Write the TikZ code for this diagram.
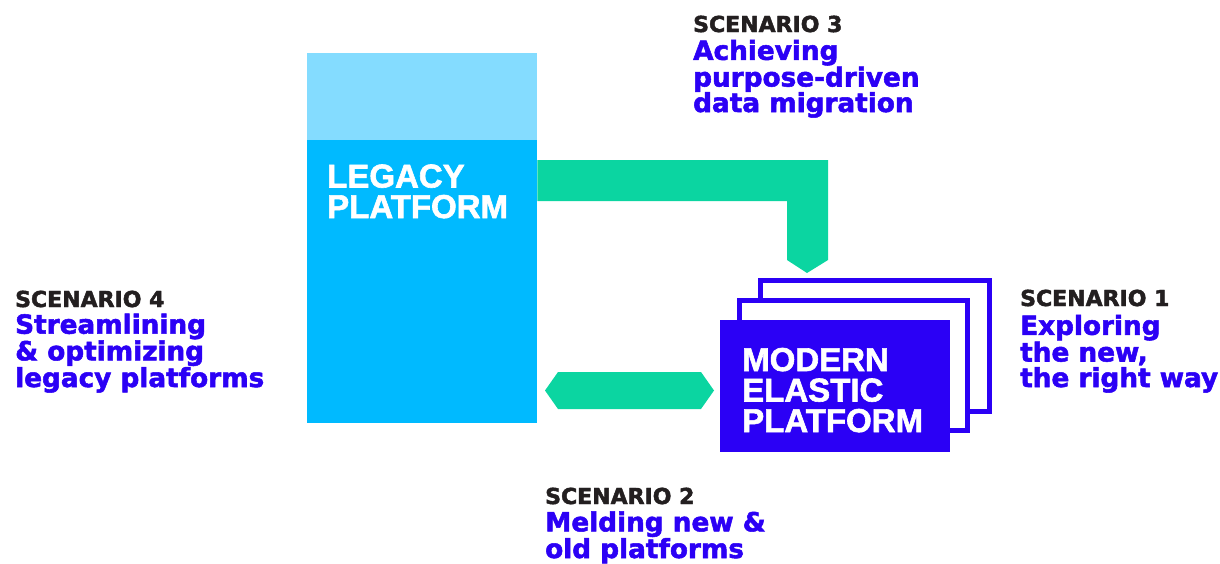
\documentclass[tikz,border=0pt]{standalone}
\usepackage{fontspec}
\setmainfont{DejaVu Sans}[BoldFeatures={FakeBold=2}]
\newfontfamily\labelfont{Liberation Sans}[BoldFeatures={FakeBold=1.8}]
\definecolor{lightsky}{HTML}{84DCFF}
\definecolor{sky}{HTML}{00BAFF}
\definecolor{mint}{HTML}{0BD5A1}
\definecolor{violet}{HTML}{2B00F5}
\definecolor{ink}{HTML}{231F20}
\tikzset{
  scen/.style={inner sep=0pt, anchor=base west, text=ink, font=\bfseries\fontsize{22}{26}\selectfont},
  desc/.style={inner sep=0pt, anchor=base west, text=violet, align=left, font=\bfseries\fontsize{26.3}{25.5}\selectfont},
  boxlabel/.style={inner sep=0pt, anchor=base west, text=white, align=left, font=\labelfont\bfseries\fontsize{33}{30.5}\selectfont},
  frame/.style={draw=violet, line width=5pt, fill=white},
}
\begin{document}
\begin{tikzpicture}[x=1pt, y=-1pt]
\useasboundingbox (0,0) rectangle (1220,563);
% legacy platform
\fill[lightsky] (307,53) rectangle (537,140);
\node[fill=sky, inner sep=0pt, minimum width=230pt, minimum height=283pt, anchor=north west] (legacy) at (307,140) {};
\node[boxlabel] (legacytext) at (327,218) {LEGACY\\PLATFORM};
% modern platform stack
\draw[frame] (760.5,280.5) rectangle (989.5,411.5);
\draw[frame] (739.5,300.5) rectangle (967.5,430.5);
\node[fill=violet, inner sep=0pt, minimum width=230pt, minimum height=132pt, anchor=north west] (modern) at (720,320) {};
\node[boxlabel] (moderntext) at (742,432) {MODERN\\ELASTIC\\PLATFORM};
% migration arrow
\fill[mint] (legacy.north east |- 0,160) -- (828,160) -- (828,260) -- (807,273) -- (787,260) -- (787,201) -- (legacy.north east |- 0,201) -- cycle;
% two-way arrow
\fill[mint] (545,390.5) -- (558,372) -- (701,372) -- (714,390.5) -- (701,409) -- (558,409) -- cycle;
% scenario texts
\node[scen] (s3) at (693,32) {SCENARIO 3};
\node[desc] (d3) at (693,112) {Achieving\\purpose-driven\\data migration};
\node[scen] (s4) at (15,307) {SCENARIO 4};
\node[desc] (d4) at (15,387) {Streamlining\\\& optimizing\\legacy platforms};
\node[scen] (s1) at (1020,306) {SCENARIO 1};
\node[desc] (d1) at (1020,387) {Exploring\\the new,\\the right way};
\node[scen] (s2) at (545,504) {SCENARIO 2};
\node[desc] (d2) at (545,558) {Melding new \&\\old platforms};
\end{tikzpicture}
\end{document}
